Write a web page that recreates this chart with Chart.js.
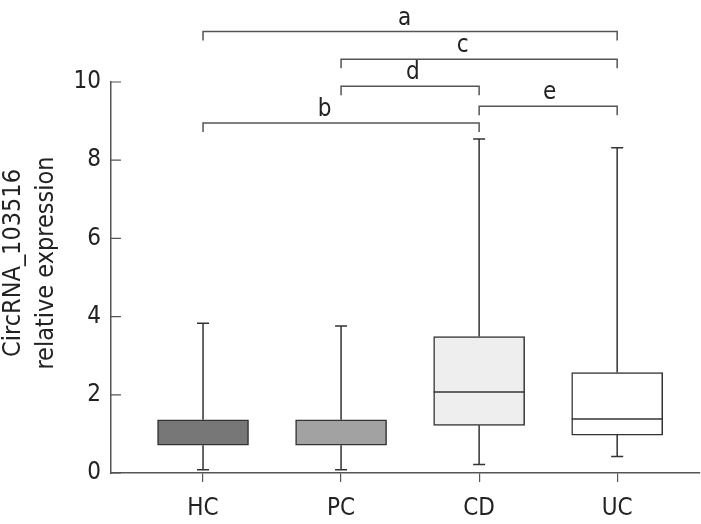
<!DOCTYPE html>
<html>
<head>
<meta charset="utf-8">
<script src="https://cdn.jsdelivr.net/npm/chart.js@4/dist/chart.umd.min.js"></script>
<style>
  html, body { margin: 0; padding: 0; background: #fff; }
  #wrap { width: 701px; height: 524px; }
</style>
</head>
<body>
<div id="wrap"><canvas id="myChart"></canvas></div>
<script>
// box plot values
const categories = ["HC", "PC", "CD", "UC"];
const whiskerMin = [0.08, 0.08, 0.22, 0.42];
const q1Values = [0.71, 0.71, 1.22, 0.97];
const medianValues = [null, null, 2.07, 1.38]; // no median line visible on HC / PC
const q3Values = [1.36, 1.36, 3.49, 2.57];
const whiskerMax = [3.83, 3.76, 8.54, 8.32];
const boxColors = ["#777777", "#a2a2a2", "#eeeeee", "#ffffff"];
const yTicks = [0, 2, 4, 6, 8, 10];

// significance brackets: from / to category, height in axis units, letter
const brackets = [
  { from: 1, to: 4, level: 11.29, label: "a", labelX: 2.46 },
  { from: 2, to: 4, level: 10.58, label: "c", labelX: 2.88 },
  { from: 2, to: 3, level: 9.89, label: "d", labelX: 2.52 },
  { from: 3, to: 4, level: 9.38, label: "e", labelX: 3.51 },
  { from: 1, to: 3, level: 8.95, label: "b", labelX: 1.88 }
];

const FONT = "'DejaVu Sans Condensed', 'DejaVu Sans', sans-serif";
const LINE = "#333";

const boxPlotExtras = {
  id: "boxPlotExtras",
  afterDatasetsDraw(chart) {
    const ctx = chart.ctx;
    const y = chart.scales.y;
    const meta = chart.getDatasetMeta(0);
    ctx.save();
    ctx.strokeStyle = LINE;
    ctx.lineWidth = 1.5;
    categories.forEach(function (c, i) {
      const bar = meta.data[i];
      const cx = bar.x;
      const yTop = y.getPixelForValue(q3Values[i]);
      const yBot = y.getPixelForValue(q1Values[i]);
      const yMax = y.getPixelForValue(whiskerMax[i]);
      const yMin = y.getPixelForValue(whiskerMin[i]);
      ctx.beginPath();
      ctx.moveTo(cx, yTop); ctx.lineTo(cx, yMax);
      ctx.moveTo(cx - 6, yMax); ctx.lineTo(cx + 6, yMax);
      ctx.moveTo(cx, yBot); ctx.lineTo(cx, yMin);
      ctx.moveTo(cx - 6, yMin); ctx.lineTo(cx + 6, yMin);
      ctx.stroke();
      if (medianValues[i] != null) {
        const ym = y.getPixelForValue(medianValues[i]);
        ctx.beginPath();
        ctx.moveTo(cx - bar.width / 2, ym);
        ctx.lineTo(cx + bar.width / 2, ym);
        ctx.stroke();
      }
    });
    ctx.restore();
  },
  afterDraw(chart) {
    const ctx = chart.ctx;
    const x = chart.scales.x;
    const y = chart.scales.y;
    const area = chart.chartArea;
    ctx.save();

    // y tick marks point inward
    ctx.strokeStyle = "#555";
    ctx.lineWidth = 1.2;
    ctx.beginPath();
    yTicks.forEach(function (t) {
      const py = y.getPixelForValue(t);
      ctx.moveTo(area.left, py);
      ctx.lineTo(area.left + 10, py);
    });
    ctx.stroke();

    // brackets
    ctx.strokeStyle = "#555";
    ctx.lineWidth = 1.5;
    ctx.fillStyle = "#222";
    ctx.font = "24px " + FONT;
    ctx.textAlign = "center";
    ctx.textBaseline = "alphabetic";
    brackets.forEach(function (b) {
      const x1 = x.getPixelForValue(b.from);
      const x2 = x.getPixelForValue(b.to);
      const py = y.getPixelForValue(b.level);
      ctx.beginPath();
      ctx.moveTo(x1, py + 9);
      ctx.lineTo(x1, py);
      ctx.lineTo(x2, py);
      ctx.lineTo(x2, py + 9);
      ctx.stroke();
      ctx.fillText(b.label, x.getPixelForValue(b.labelX), py - 7);
    });

    // y axis title
    ctx.font = "25px " + FONT;
    ctx.translate(0, 263);
    ctx.rotate(-Math.PI / 2);
    ctx.fillText("CircRNA_103516", 0, 20);
    ctx.fillText("relative expression", 0, 53);
    ctx.restore();
  }
};

new Chart("myChart", {
  type: "bar",
  data: {
    datasets: [{
      data: categories.map(function (c, i) {
        return { x: i + 1, y: [q1Values[i], q3Values[i]] };
      }),
      backgroundColor: boxColors,
      borderColor: LINE,
      borderWidth: 1.5,
      borderSkipped: false,
      barThickness: 91
    }]
  },
  options: {
    responsive: true,
    maintainAspectRatio: false,
    animation: false,
    layout: { padding: { top: 82, right: 1, left: 0, bottom: 0 } },
    plugins: { legend: { display: false }, tooltip: { enabled: false } },
    scales: {
      x: {
        type: "linear",
        min: 0.3333,
        max: 4.6,
        offset: false,
        afterBuildTicks: function (scale) {
          scale.ticks = [1, 2, 3, 4].map(function (v) { return { value: v }; });
        },
        afterFit: function (scale) { scale.height = 51; },
        grid: { offset: false, drawOnChartArea: false, tickLength: 9, color: "#555", lineWidth: 1.2 },
        border: { color: "#555", width: 1.5 },
        ticks: {
          autoSkip: false,
          maxRotation: 0,
          padding: 12,
          color: "#222",
          font: { family: FONT, size: 24 },
          callback: function (v) { return categories[v - 1]; }
        }
      },
      y: {
        min: 0,
        max: 10,
        afterFit: function (scale) { scale.width = 111; },
        grid: { drawOnChartArea: false, drawTicks: false },
        border: { color: "#555", width: 1.5 },
        ticks: {
          stepSize: 2,
          padding: 10,
          color: "#222",
          font: { family: FONT, size: 24 }
        }
      }
    }
  },
  plugins: [boxPlotExtras]
});
</script>
</body>
</html>
